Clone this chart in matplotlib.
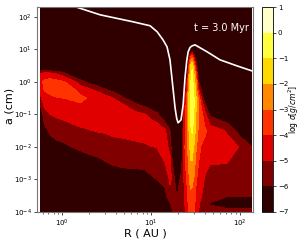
import numpy as np
import matplotlib
matplotlib.use("Agg")
import matplotlib.pyplot as plt
from matplotlib.colors import ListedColormap,BoundaryNorm
from matplotlib.cm import ScalarMappable
from matplotlib.transforms import Transform

#DATA
R_au=[0.566,0.628,0.733,0.855,1.03,1.27,1.59,1.97,2.47,3.04,3.74,4.62,5.66,6.97,8.56,10.0,11.7,14.4,16.3,17.7,19.1,20.1,21.7,23.5,25.1,26.4,27.8,28.9,30.4,32.1,34.2,36.5,40.5,46.0,71.4,100,136]
a_log=[-4,-3.75,-3.5,-3,-2.5,-2,-1.5,-1,-0.75,-0.5,-0.25,0,0.25,0.5,0.75,1,1.5,2.3]
#log sigma, one line per R column, a going up (below -7 is off the colour scale)
sigma_cols=[
[-10,-10,-10,-10,-10,-10,-8.6,-6.95,-6.1,-5.3,-4.6,-4.3,-4.8,-8.5,-10,-10,-10,-10],
[-10,-10,-10,-9.2,-8.2,-7.3,-6.35,-5.4,-4.9,-4.4,-3.95,-3.8,-4.6,-8.5,-10,-10,-10,-10],
[-10,-9.4,-9,-8.2,-7.4,-6.6,-5.8,-5.0,-4.7,-4.15,-3.8,-3.6,-4.6,-8.5,-10,-10,-10,-10],
[-9.3,-8.9,-8.55,-7.8,-7.05,-6.3,-5.6,-4.85,-4.5,-4.05,-3.7,-3.7,-5.0,-8.5,-10,-10,-10,-10],
[-9,-8.65,-8.3,-7.6,-6.85,-6.2,-5.5,-4.75,-4.4,-4.0,-3.6,-3.9,-5.5,-8.5,-10,-10,-10,-10],
[-8.8,-8.45,-8.1,-7.4,-6.7,-6,-5.3,-4.6,-4.3,-3.9,-3.7,-4.5,-6.7,-9.3,-10,-10,-10,-10],
[-8.5,-8.2,-7.9,-7.2,-6.5,-5.85,-5.15,-4.5,-4.15,-3.8,-4.3,-5.5,-7.5,-9.5,-10,-10,-10,-10],
[-8.4,-8.1,-7.75,-7.05,-6.4,-5.7,-5.05,-4.5,-4.2,-4.05,-4.7,-6.25,-8.5,-10,-10,-10,-10,-10],
[-8.2,-7.9,-7.55,-6.9,-6.25,-5.6,-4.95,-4.5,-4.35,-4.25,-5.2,-6.8,-8.4,-10,-10,-10,-10,-10],
[-7.9,-7.6,-7.3,-6.7,-6.07,-5.5,-4.9,-4.5,-4.4,-4.5,-5.85,-7,-8.4,-10,-10,-10,-10,-10],
[-7.7,-7.4,-7.1,-6.5,-5.93,-5.35,-4.8,-4.5,-4.5,-5.0,-6.3,-7.6,-9,-10,-10,-10,-10,-10],
[-7.6,-7.3,-7,-6.4,-5.85,-5.3,-4.75,-4.5,-4.6,-5.7,-6.9,-8,-9,-10,-10,-10,-10,-10],
[-7.6,-7.3,-7,-6.4,-5.82,-5.25,-4.7,-4.6,-5.15,-6.3,-7.4,-8.5,-9.5,-10,-10,-10,-10,-10],
[-7.6,-7.3,-7,-6.4,-5.8,-5.2,-4.6,-4.75,-5.7,-6.85,-8,-9,-10,-10,-10,-10,-10,-10],
[-7.55,-7.25,-6.95,-6.35,-5.75,-5.15,-4.5,-4.95,-6.1,-7.2,-8.3,-9.4,-10,-10,-10,-10,-10,-10],
[-7.3,-7,-6.75,-6.15,-5.6,-5.03,-4.2,-5.4,-6.5,-7.5,-8.6,-10,-10,-10,-10,-10,-10,-10],
[-7,-6.75,-6.5,-5.98,-5.47,-4.97,-4.2,-5.8,-6.8,-7.8,-9,-10,-10,-10,-10,-10,-10,-10],
[-6.95,-6.6,-6.3,-5.65,-5,-4.75,-4.9,-7,-8.2,-9.4,-10,-10,-10,-10,-10,-10,-10,-10],
[-6.6,-6.15,-5.3,-4.85,-4.8,-5.2,-5.95,-7.2,-8,-9,-10,-10,-10,-10,-10,-10,-10,-10],
[-5.9,-5.5,-5.2,-5.2,-6.4,-7.6,-8.6,-9.5,-10,-10,-10,-10,-10,-10,-10,-10,-10,-10],
[-5.4,-5.5,-5.7,-7,-8,-9,-10,-10,-10,-10,-10,-10,-10,-10,-10,-10,-10,-10],
[-5.4,-5.5,-5.6,-7,-8,-9,-10,-10,-10,-10,-10,-10,-10,-10,-10,-10,-10,-10],
[-5.3,-5.3,-5.3,-5.5,-6.7,-7.7,-8.5,-9.5,-10,-10,-10,-10,-10,-10,-10,-10,-10,-10],
[-5.2,-5.15,-5.1,-4.95,-4.4,-4.3,-4.5,-4.5,-4.95,-5.7,-6.4,-7.3,-8.5,-10,-10,-10,-10,-10],
[-4.9,-4.6,-4.4,-4.0,-3.6,-3.4,-3.4,-3.4,-3.6,-4.05,-4.6,-5.5,-7.2,-9,-10,-10,-10,-10],
[-4.0,-3.8,-3.6,-3.2,-2.9,-2.6,-2.2,-1.9,-1.9,-2.0,-2.4,-2.8,-3.4,-4.6,-7,-9,-10,-10],
[-3.5,-3.35,-3.2,-2.7,-2.1,-1.6,-1.1,-0.9,-0.8,-0.8,-0.9,-1.1,-1.4,-2.0,-3.6,-7.5,-10,-10],
[-3.4,-3.3,-3.2,-2.8,-2.1,-1.5,-0.9,-0.6,-0.5,-0.5,-0.5,-0.6,-0.8,-1.2,-3.2,-7,-10,-10],
[-3.9,-3.7,-3.5,-3.1,-2.6,-2.1,-1.4,-1.05,-1.0,-1.0,-1.2,-1.5,-2.1,-3.0,-5.0,-8,-10,-10],
[-4.6,-4.45,-4.3,-3.9,-3.4,-2.9,-2.4,-2.1,-2.0,-2.0,-2.3,-2.8,-3.6,-5.2,-7,-9,-10,-10],
[-5.0,-4.95,-4.9,-4.4,-4.0,-3.6,-3.2,-3.05,-3.0,-3.2,-4.7,-5.8,-7,-8.5,-10,-10,-10,-10],
[-5.3,-5.1,-4.95,-4.65,-4.4,-4.05,-3.5,-3.6,-4.0,-4.8,-6.0,-7.2,-8.5,-10,-10,-10,-10,-10],
[-5.5,-5.4,-5.3,-5.1,-4.75,-4.3,-3.85,-4.7,-5.6,-7,-8,-9,-10,-10,-10,-10,-10,-10],
[-5.7,-6.05,-5.7,-5.4,-4.95,-4.5,-4.4,-6.2,-7.4,-8.5,-10,-10,-10,-10,-10,-10,-10,-10],
[-5.7,-6.4,-5.95,-5.4,-5.0,-4.6,-5.1,-7,-8,-9,-10,-10,-10,-10,-10,-10,-10,-10],
[-5.7,-6.4,-5.95,-5.6,-5.2,-5.05,-6.5,-8,-9,-10,-10,-10,-10,-10,-10,-10,-10,-10],
[-5.75,-6.4,-5.95,-5.7,-5.4,-6.0,-7.5,-9,-10,-10,-10,-10,-10,-10,-10,-10,-10,-10],
]
#white curve
line_R=[1.40,2.67,6.28,9.74,11.7,13.6,15.1,16.3,17.7,18.6,19.4,20.1,21.7,22.9,24.1,25.2,26.1,27.4,28.9,31.2,42.6,59.6,92.5,136]
line_a=[204,115,70,53,34.5,19.6,11.9,4.75,0.57,0.158,0.075,0.055,0.068,0.195,1.43,4.6,8.4,11.4,12.8,13.7,8.4,4.75,3.1,2.18]
levels=[-7,-6,-5,-4,-3,-2,-1,0,1]
colors=["#300000","#800000","#e00000","#ff3300","#ff8800","#ffd800","#ffff40","#ffffc8"]

#contour in log10 space so the band edges stay straight on the log axes
class Pow10(Transform):
    input_dims=output_dims=2
    def transform_non_affine(self,values):
        return 10.0**np.asarray(values)

Z=np.array(sigma_cols).T

fig=plt.figure(figsize=(3.0,2.41),dpi=100)
ax=fig.add_axes([37/300,29/241,216/300,205/241])
cax=fig.add_axes([262/300,29/241,11/300,205/241])

cmap=ListedColormap(colors)
cmap.set_under(colors[0])
ax.set_xscale("log")
ax.set_yscale("log")
ax.contourf(np.log10(R_au),a_log,Z,levels=levels,cmap=cmap,extend="min",transform=Pow10()+ax.transData)
ax.plot(line_R,line_a,c="white",lw=1.2)
ax.set_xlim(0.52,140)
ax.set_ylim(1e-4,200)
ax.set_yticks([1e-4,1e-3,1e-2,1e-1,1,10,100])
ax.tick_params(which="major",labelsize=5,length=2.5,width=0.5,pad=1.5)
ax.tick_params(which="minor",length=1.5,width=0.4)
ax.minorticks_on()
ax.yaxis.set_minor_locator(plt.NullLocator())
for s in ax.spines.values():
    s.set_linewidth(0.8)
    s.set_color("#777777")
ax.set_xlabel("R ( AU )",fontsize=8,labelpad=-0.5)
ax.set_ylabel("a (cm)",fontsize=8)
ax.yaxis.set_label_coords(-0.105,0.517)
ax.text(0.852,0.898,"t = 3.0 Myr",transform=ax.transAxes,color="white",fontsize=7,ha="center",va="center")

sm=ScalarMappable(norm=BoundaryNorm(levels,len(colors)),cmap=cmap)
cb=fig.colorbar(sm,cax=cax)
cb.set_ticks(levels)
cb.ax.tick_params(labelsize=5,length=2,width=0.5,pad=1.5)
cb.outline.set_linewidth(0.6)
cb.set_label(r"log $\sigma[g/cm^2]$",fontsize=5.5,labelpad=-1)

plt.savefig("out.png",dpi=100)
